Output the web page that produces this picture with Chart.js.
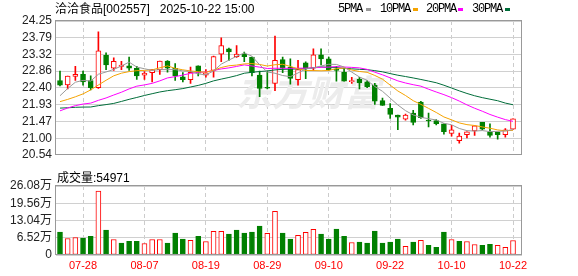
<!DOCTYPE html>
<html>
<head>
<meta charset="utf-8">
<script src="https://cdn.jsdelivr.net/npm/chart.js@4.4.0/dist/chart.umd.min.js"></script>
<style>
  body { margin: 0; background: #fff; }
  #wrap { position: relative; width: 578px; height: 276px; overflow: hidden; font-family: 'Liberation Sans', Arial, sans-serif; }
  canvas { position: absolute; left: 0; }
  #priceCanvas { top: 0; }
  #volCanvas { top: 166px; }
  .title { position: absolute; left: 55px; top: 1px; font-size: 12px; line-height: 14px; color: #000; white-space: nowrap; }
  .cjk { font-family: 'Noto Sans CJK SC', sans-serif; }
  .lg { position: absolute; top: 3px; font-family: 'Liberation Mono', monospace; font-size: 12px; line-height: 12px; letter-spacing: -1.2px; color: #000; }
  .mk { position: absolute; top: 8px; width: 5px; height: 3px; }
  .volTitle { position: absolute; left: 57px; top: 170px; font-size: 12px; line-height: 14px; color: #000; }
</style>
</head>
<body>
<div id="wrap">
  <canvas id="priceCanvas" width="578" height="166"></canvas>
  <canvas id="volCanvas" width="578" height="110"></canvas>
  <div class="title"><span class="cjk">洽洽食品</span>[002557]&nbsp;&nbsp;&nbsp;2025-10-22 15:00</div>
  <div class="lg" style="left:338px">5PMA</div><div class="mk" style="left:366px;background:#999999"></div>
  <div class="lg" style="left:380px">10PMA</div><div class="mk" style="left:413px;background:#f5a300"></div>
  <div class="lg" style="left:426px">20PMA</div><div class="mk" style="left:458px;background:#ff00ff"></div>
  <div class="lg" style="left:472px">30PMA</div><div class="mk" style="left:505px;background:#006d3a"></div>
  <div class="volTitle"><span class="cjk">成交量</span>:54971</div>
</div>
<script>
const dates = ['07-23','07-24','07-25','07-28','07-29','07-30','07-31','08-01','08-04','08-05',
  '08-06','08-07','08-08','08-11','08-12','08-13','08-14','08-15','08-18','08-19',
  '08-20','08-21','08-22','08-25','08-26','08-27','08-28','08-29','09-01','09-02',
  '09-03','09-04','09-05','09-08','09-09','09-10','09-11','09-12','09-15','09-16',
  '09-17','09-18','09-19','09-22','09-23','09-24','09-25','09-26','09-29','09-30',
  '10-09','10-10','10-13','10-14','10-15','10-16','10-17','10-20','10-21','10-22'];

const opens = [22.60,22.48,22.71,22.77,22.60,22.40,23.30,22.94,22.99,23.01,
  22.94,22.75,22.82,22.90,23.14,22.94,22.70,22.62,23.01,22.75,
  22.88,23.33,23.48,23.26,23.33,23.25,22.75,22.41,22.52,23.18,
  22.97,22.62,23.09,22.94,23.31,23.20,22.92,22.83,22.57,22.63,
  22.56,22.47,22.04,21.83,21.64,21.53,21.70,22.00,21.50,21.49,
  21.40,21.13,20.93,21.10,21.20,21.44,21.18,21.17,21.10,21.25];
const highs = [22.86,22.72,22.99,22.86,22.73,23.95,23.37,23.23,23.13,23.25,
  22.99,22.85,22.90,23.14,23.15,23.07,22.82,22.97,23.01,22.90,
  23.28,23.78,23.50,23.57,23.39,23.25,22.86,22.86,23.83,23.25,
  23.20,23.16,23.12,23.48,23.48,23.25,22.99,22.94,22.69,22.69,
  22.60,22.52,22.11,21.96,21.64,21.67,21.77,22.02,21.70,21.52,
  21.40,21.36,21.14,21.18,21.34,21.44,21.40,21.17,21.27,21.54];
const lows = [22.45,22.37,22.60,22.47,22.34,22.38,22.90,22.88,22.90,22.88,
  22.63,22.63,22.56,22.77,22.83,22.60,22.56,22.52,22.73,22.69,
  22.69,23.12,23.16,23.24,23.12,22.73,22.15,22.37,22.32,22.82,
  22.50,22.47,22.65,22.88,23.03,22.88,22.58,22.58,22.52,22.37,
  22.40,21.94,21.91,21.55,21.24,21.50,21.37,21.55,21.31,21.37,
  21.11,21.06,20.86,21.01,21.08,21.23,21.03,20.97,21.03,21.25];
const closes = [22.47,22.72,22.77,22.56,22.40,23.42,23.03,23.13,23.03,22.94,
  22.73,22.80,22.90,23.14,22.94,22.73,22.62,22.83,22.80,22.81,
  23.26,23.57,23.39,23.33,23.26,22.82,22.38,22.39,23.16,22.94,
  22.66,22.90,22.94,23.31,23.20,22.90,22.88,22.58,22.60,22.53,
  22.43,22.03,21.91,21.66,21.58,21.64,21.44,21.57,21.48,21.40,
  21.18,21.23,21.06,21.18,21.34,21.25,21.08,21.10,21.23,21.54];
// closes before 07-23, estimated from where the MA lines start
const priorCloses = [22.45,22.40,22.38,22.32,22.28,22.18,22.12,21.40,21.20,21.15,
  21.15,21.45,21.70,21.86,21.90,21.70,21.50,21.48,21.10,21.20,
  22.10,22.05,21.75,21.30,22.05,21.72,21.90,22.30,22.50];
const volumes = [86500,62500,66000,63600,71000,241700,94000,58700,44600,52000,
  52000,43500,58700,58700,44600,82700,60000,55000,71000,51000,
  89000,89000,79000,94000,82700,86500,109400,81600,165500,82700,
  60000,74000,85500,96800,79000,60000,98000,71000,47300,48400,
  44600,90400,44600,48400,60000,33000,48400,55000,37000,29400,
  86500,58700,52000,51000,39700,37000,40800,37000,29400,54971];

const priceTicks = [24.25, 23.79, 23.32, 22.86, 22.40, 21.93, 21.47, 21.00, 20.54];
const volTicks = [0, 65200, 130400, 195600, 260800];
const dateTicks = ['07-28','08-07','08-19','08-29','09-10','09-22','10-10','10-22'];

const RED = '#ff0000', GREEN = '#008000';
const X_MIN = -0.521, X_MAX = 60.17;
const tickIdx = dateTicks.map(d => dates.indexOf(d));

function movingAvg(n) {
  const all = priorCloses.concat(closes);
  const off = priorCloses.length;
  return closes.map((c, i) => {
    let s = 0;
    for (let k = off + i - n + 1; k <= off + i; k++) s += all[k];
    return +(s / n).toFixed(3);
  });
}

const prevClose = i => i === 0 ? priorCloses[priorCloses.length - 1] : closes[i - 1];
const candleUp = closes.map((c, i) => c > opens[i] || (c === opens[i] && c >= prevClose(i)));
const volUp = closes.map((c, i) => c >= prevClose(i));

const frame = {
  id: 'frame',
  afterDraw(chart) {
    const { ctx, chartArea: a } = chart;
    ctx.save();
    ctx.strokeStyle = '#999';
    ctx.lineWidth = 1;
    ctx.strokeRect(Math.round(a.left) - 0.5, Math.round(a.top) - 0.5, Math.round(a.width), Math.round(a.height));
    ctx.restore();
  }
};

const watermark = {
  id: 'watermark',
  beforeDatasetsDraw(chart) {
    const { ctx } = chart;
    ctx.save();
    ctx.fillStyle = '#ececec';
    ctx.font = 'italic bold 36px "Noto Sans CJK SC"';
    ctx.textBaseline = 'middle';
    ctx.fillText('东方财富', 236, 92);
    ctx.restore();
  }
};

const xAxis = (showLabels) => ({
  type: 'linear',
  min: X_MIN,
  max: X_MAX,
  offset: false,
  afterBuildTicks: s => { s.ticks = tickIdx.map(v => ({ value: v })); },
  ticks: {
    display: showLabels,
    autoSkip: false,
    maxRotation: 0,
    padding: 4,
    color: RED,
    font: { family: 'Liberation Sans', size: 11 },
    callback: v => dates[v]
  },
  grid: { color: '#cccccc', drawTicks: false, offset: false },
  border: { display: false, dash: [4, 3] },
  afterFit: s => { s.height = showLabels ? 21 : 0; }
});

const line = (label, n, color) => ({
  type: 'line',
  label: label,
  data: movingAvg(n).map((v, i) => ({ x: i, y: v })),
  borderColor: color,
  borderWidth: 1,
  pointRadius: 0,
  tension: 0,
  order: 0
});

new Chart(document.getElementById('priceCanvas'), {
  type: 'bar',
  data: {
    datasets: [
      line('5PMA', 5, '#999999'),
      line('10PMA', 10, '#f5a300'),
      line('20PMA', 20, '#ff00ff'),
      line('30PMA', 30, '#006d3a'),
      {
        label: 'body',
        data: opens.map((o, i) => ({ x: i, y: [o, closes[i]] })),
        backgroundColor: candleUp.map(u => u ? '#ffffff' : GREEN),
        borderColor: candleUp.map(u => u ? RED : GREEN),
        borderWidth: 1,
        borderSkipped: false,
        barThickness: 5,
        grouped: false,
        order: 1
      },
      {
        label: 'wick',
        data: lows.map((l, i) => ({ x: i, y: [l, highs[i]] })),
        backgroundColor: candleUp.map(u => u ? RED : GREEN),
        borderWidth: 0,
        barThickness: 1,
        grouped: false,
        order: 2
      }
    ]
  },
  options: {
    responsive: false,
    animation: false,
    devicePixelRatio: 1,
    layout: { padding: { top: 21, right: 56, bottom: 1, left: 0 } },
    plugins: { legend: { display: false }, tooltip: { enabled: false } },
    scales: {
      x: xAxis(false),
      y: {
        min: 20.54,
        max: 24.25,
        afterBuildTicks: s => { s.ticks = priceTicks.map(v => ({ value: v })); },
        ticks: { autoSkip: false, callback: v => v.toFixed(2), color: '#222', padding: 4, font: { family: 'Liberation Sans', size: 12 } },
        grid: { color: '#d0d0d0', drawTicks: false },
        border: { display: false },
        afterFit: s => { s.width = 56; }
      }
    }
  },
  plugins: [watermark, frame]
});

new Chart(document.getElementById('volCanvas'), {
  type: 'bar',
  data: {
    datasets: [{
      label: 'volume',
      data: volumes.map((v, i) => ({ x: i, y: v })),
      backgroundColor: volUp.map(u => u ? '#ffffff' : GREEN),
      borderColor: volUp.map(u => u ? RED : GREEN),
      borderWidth: 1,
      borderSkipped: false,
      barThickness: 5
    }]
  },
  options: {
    responsive: false,
    animation: false,
    devicePixelRatio: 1,
    layout: { padding: { top: 20, right: 56, bottom: 0, left: 0 } },
    plugins: { legend: { display: false }, tooltip: { enabled: false } },
    scales: {
      x: xAxis(true),
      y: {
        min: 0,
        max: 260800,
        afterBuildTicks: s => { s.ticks = volTicks.map(v => ({ value: v })); },
        ticks: {
          autoSkip: false,
          callback: v => v === 0 ? '0' : (v / 10000).toFixed(2) + '万',
          color: '#222',
          padding: 4,
          font: { family: "'Liberation Sans', 'Noto Sans CJK SC'", size: 12 }
        },
        grid: { color: '#d0d0d0', drawTicks: false },
        border: { display: false },
        afterFit: s => { s.width = 56; }
      }
    }
  },
  plugins: [frame]
});
</script>
</body>
</html>
